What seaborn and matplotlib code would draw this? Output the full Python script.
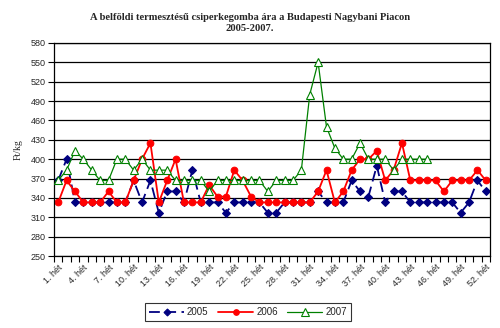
import matplotlib
matplotlib.use("Agg")
import matplotlib.pyplot as plt
import seaborn as sns
import numpy as np
import pandas as pd
from matplotlib.ticker import FixedLocator, NullFormatter

weeks = list(range(1, 53))
tick_weeks = list(range(1, 53, 3))
tick_labels = [f"{w}. hét" for w in tick_weeks]

y2005 = [367, 400, 333, 333, 333, 333, 333, 333, 333, 367,
         333, 367, 317, 350, 350, 333, 383, 333, 333, 333,
         317, 333, 333, 333, 333, 317, 317, 333, 333, 333,
         333, 350, 333, 333, 333, 367, 350, 342, 390, 333,
         350, 350, 333, 333, 333, 333, 333, 333, 317, 333,
         367, 350]
y2006 = [333, 367, 350, 333, 333, 333, 350, 333, 333, 367,
         400, 425, 333, 367, 400, 333, 333, 333, 360, 342,
         342, 383, 367, 342, 333, 333, 333, 333, 333, 333,
         333, 350, 383, 333, 350, 383, 400, 400, 413, 367,
         383, 425, 367, 367, 367, 367, 350, 367, 367, 367,
         383, 367]
y2007 = [367, 383, 413, 400, 383, 367, 367, 400, 400, 383,
         400, 383, 383, 383, 367, 367, 367, 367, 350, 367,
         367, 367, 367, 367, 367, 350, 367, 367, 367, 383,
         500, 550, 450, 417, 400, 400, 425, 400, 400, 400,
         383, 400, 400, 400, 400]

title = "A belföldi termesztésű csiperkegomba ára a Budapesti Nagybani Piacon\n2005-2007."
ylabel = "Ft/kg"

sns.set_theme(style="white")
plt.rcParams['font.family'] = ['Liberation Sans', 'DejaVu Sans']

fig = plt.figure(figsize=(5.0, 3.28), dpi=100)
ax = fig.add_axes([54/500, 1-256/328, 436/500, 213/328])

for y in range(250, 581, 30):
    ax.axhline(y, color="black", lw=0.9, zorder=0)

sns.lineplot(x=weeks, y=y2005, ax=ax, color="#000080", lw=1.3,
             marker="D", markersize=4.2, markeredgecolor="#000080",
             label="2005", zorder=1)
ax.lines[-1].set_dashes([6, 3])
sns.lineplot(x=weeks, y=y2006, ax=ax, color="#FF0000", lw=1.3,
             marker="o", markersize=4.8, markeredgecolor="#FF0000",
             label="2006", zorder=2)
sns.lineplot(x=weeks[:len(y2007)], y=y2007, ax=ax, color="#008000", lw=0.9,
             marker="^", markersize=6.2, markerfacecolor="white",
             markeredgecolor="#008000", markeredgewidth=0.8,
             label="2007", zorder=3)

ax.set_xlim(0.5, 52.5)
ax.set_ylim(250, 580)
ax.set_yticks(range(250, 581, 30))
ax.tick_params(axis="y", labelsize=6.5, length=4, width=0.8, color="black",
               direction="out", pad=2, left=True)
ax.set_xticks(tick_weeks)
ax.set_xticklabels(tick_labels, rotation=45, ha="right", va="top",
                   rotation_mode="anchor", fontsize=6.5)
ax.tick_params(axis="x", which="major", length=0, pad=5)
ax.xaxis.set_minor_locator(FixedLocator(np.arange(0.5, 53, 1)))
ax.tick_params(axis="x", which="minor", length=4, width=0.8, color="black",
               direction="out", bottom=True)
for s in ax.spines.values():
    s.set_color("black")
    s.set_linewidth(0.9)

ax.set_xlabel("")
ax.set_ylabel(ylabel, family=["Liberation Serif"], fontsize=7, labelpad=6)

fig.text(0.5, 1-23/328, title, ha="center", va="center", family=["Liberation Serif"],
         fontweight="bold", fontsize=7.6, linespacing=1.3)

leg = ax.legend(loc="center", bbox_to_anchor=(248/500, 1-312/328),
                bbox_transform=fig.transFigure, ncol=3, frameon=True,
                fontsize=7, handlelength=3.6, columnspacing=1.0,
                handletextpad=0.3, borderpad=0.45, fancybox=False,
                markerscale=0.85)
leg.get_frame().set_edgecolor("black")
leg.get_frame().set_linewidth(0.8)

fig.savefig("out.png", dpi=100)
